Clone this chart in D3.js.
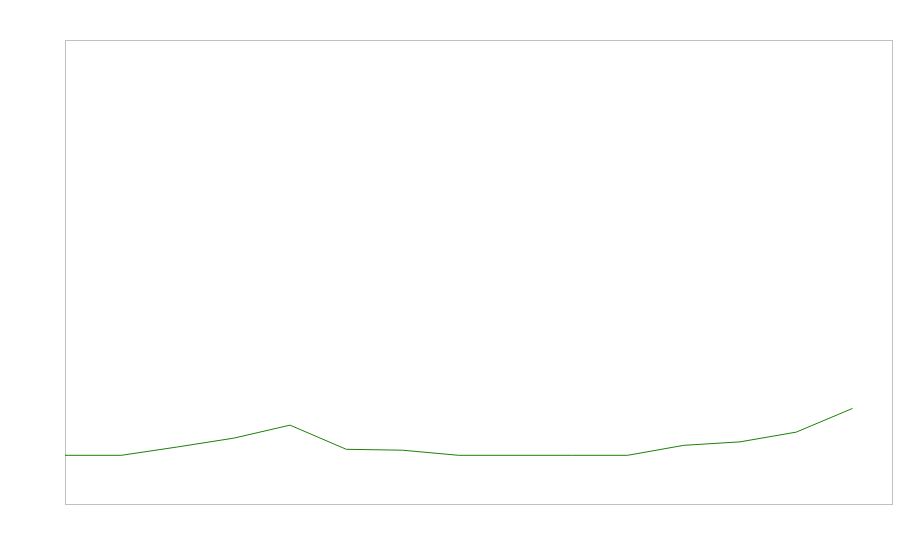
<!DOCTYPE html>
<html>
<head>
<meta charset="utf-8">
<script src="https://cdn.jsdelivr.net/npm/d3@7"></script>
<style>
html,body{margin:0;padding:0;background:#fff;}
svg{display:block;}
</style>
</head>
<body>
<svg id="chart" width="900" height="560"></svg>
<script>
const categories = [0,1,2,3,4,5,6,7,8,9,10,11,12,13,14];
const values = [0, 0, 1.8, 3.7, 6.5, 1.3, 1.1, 0, 0, 0, 0, 2.15, 2.9, 5.0, 10.1];
const yDomain = [-10.6, 89.4];

(function () {
  const svg = d3.select("#chart");
  const frameLeft = 65.5, frameTop = 40.5, frameRight = 892.5, frameBottom = 504.5;

  const x = d3.scaleLinear().domain([0, 14]).range([65, 852.5]);
  const y = d3.scaleLinear().domain(yDomain).range([504.5, 40.5]);

  svg.append("rect")
    .attr("x", frameLeft).attr("y", frameTop)
    .attr("width", frameRight - frameLeft).attr("height", frameBottom - frameTop)
    .attr("fill", "none").attr("stroke", "#c0c0c0").attr("stroke-width", 1);

  const line = d3.line().x((d, i) => x(categories[i])).y(d => y(d));
  svg.append("path")
    .datum(values)
    .attr("d", line)
    .attr("fill", "none")
    .attr("stroke", "#1f7f0a")
    .attr("stroke-width", 1);
})();
</script>
</body>
</html>
